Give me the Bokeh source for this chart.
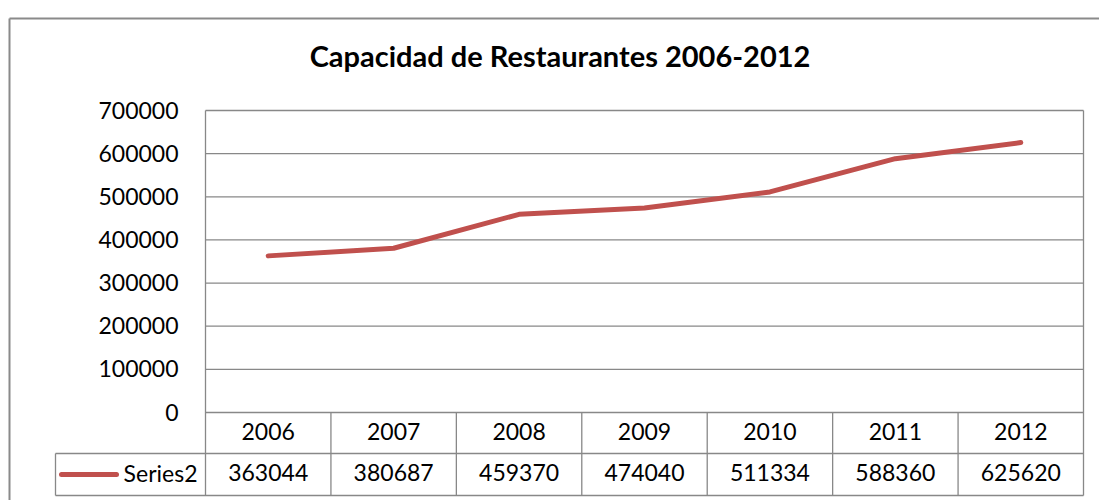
from bokeh.plotting import figure
from bokeh.models import Range1d
from bokeh.embed import file_html
from bokeh.resources import INLINE
from bokeh.core.properties import value

# ---- data ----
years = ["2006", "2007", "2008", "2009", "2010", "2011", "2012"]
capacity = [363044, 380687, 459370, 474040, 511334, 588360, 625620]
y_ticks = [0, 100000, 200000, 300000, 400000, 500000, 600000, 700000]
y_tick_labels = [str(t) for t in y_ticks]
series_name = "Series2"
title_text = "Capacidad de Restaurantes 2006-2012"

# ---- layout (page pixels) ----
W, H = 1099, 500
OX, OY = 0, 0
PLOT_L, PLOT_R = 205, 1083
PLOT_T, PLOT_B = 110, 412
ROW_MID, ROW_BOT = 453, 495
LEG_L = 55
COLW = (PLOT_R - PLOT_L) / len(years)
VPP = y_ticks[-1] / (PLOT_B - PLOT_T)
FONT = "Lato"
GRID = "#888888"
RED = "#C0504D"
SHIFT = 10      # baseline compensation for 23px text
TSHIFT = 13     # for the title


def X(px):
    return (px - PLOT_L) / COLW - 0.5


def Y(py):
    return (PLOT_B - py) * VPP


p = figure(width=W, height=H, output_backend="svg", toolbar_location=None,
           x_range=Range1d(X(OX), X(OX + W)), y_range=Range1d(Y(OY + H), Y(OY)),
           min_border=0, outline_line_color=None)
p.axis.visible = False
p.grid.visible = False
p.background_fill_color = "white"
p.border_fill_color = "white"

# outer chart border
p.segment(x0=[X(9), X(9)], y0=[Y(18), Y(18)], x1=[X(9), X(1200)], y1=[Y(600), Y(18)],
          line_color="#8a8a8a", line_width=2)

# grid lines
p.segment(x0=[X(PLOT_L)] * len(y_ticks), y0=y_ticks, x1=[X(PLOT_R)] * len(y_ticks), y1=y_ticks,
          line_color=GRID, line_width=1.3)

# y tick labels
p.text(x=[X(178)] * len(y_ticks), y=[t - (9.5 - SHIFT) * VPP for t in y_ticks], text=y_tick_labels,
       text_font=value(FONT), text_font_size="23px", text_align="right",
       text_baseline="alphabetic", text_color="black")

# plot area / table vertical lines
n = len(years)
xs = [X(PLOT_L + k * COLW) for k in range(n + 1)]
p.segment(x0=[xs[0], xs[-1]], y0=[Y(PLOT_T)] * 2, x1=[xs[0], xs[-1]], y1=[Y(ROW_BOT)] * 2,
          line_color=GRID, line_width=1.3)
p.segment(x0=xs[1:-1], y0=[Y(PLOT_B)] * (n - 1), x1=xs[1:-1], y1=[Y(ROW_BOT)] * (n - 1),
          line_color=GRID, line_width=1.3)
# table horizontal lines + legend cell
p.segment(x0=[X(LEG_L), X(LEG_L), X(LEG_L)], y0=[Y(ROW_MID), Y(ROW_BOT), Y(ROW_MID)],
          x1=[X(PLOT_R), X(PLOT_R), X(LEG_L)], y1=[Y(ROW_MID), Y(ROW_BOT), Y(ROW_BOT)],
          line_color=GRID, line_width=1.3)

# series line
idx = list(range(n))
p.line(x=idx, y=capacity, line_color=RED, line_width=5, line_join="round", line_cap="round")

# table text
p.text(x=idx, y=[Y(441 - SHIFT)] * n, text=years, text_font=value(FONT), text_font_size="23px",
       text_align="center", text_baseline="alphabetic", text_color="black")
p.text(x=idx, y=[Y(482 - SHIFT)] * n, text=[str(v) for v in capacity], text_font=value(FONT),
       text_font_size="23px", text_align="center", text_baseline="alphabetic", text_color="black")

# legend key
p.line(x=[X(61), X(116)], y=[Y(474), Y(474)], line_color=RED, line_width=5, line_cap="round")
p.text(x=[X(197)], y=[Y(482 - SHIFT)], text=[series_name], text_font=value(FONT), text_font_size="23px",
       text_align="right", text_baseline="alphabetic", text_color="black")

# title
p.text(x=[X(559.5)], y=[Y(68 - TSHIFT)], text=[title_text], text_font=value(FONT), text_font_size="29px",
       text_font_style="bold", text_align="center", text_baseline="alphabetic", text_color="black")

open("out.html", "w").write(file_html(p, INLINE))
